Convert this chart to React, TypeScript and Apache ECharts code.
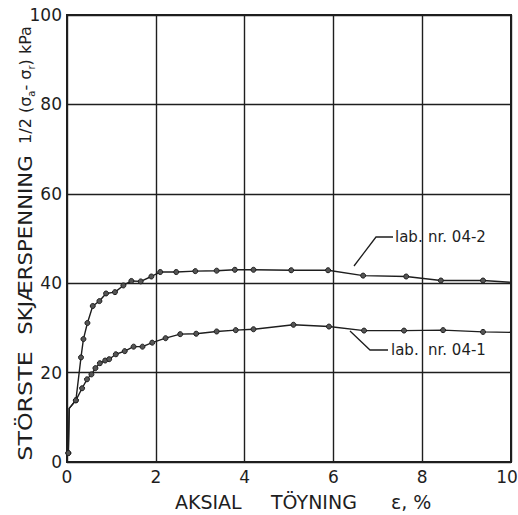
import React, { useEffect, useRef } from "react";
import * as echarts from "echarts";

// Lab. nr. 04-2 (upper curve)
const strain042 = [0.03, 0.05, 0.2, 0.315, 0.37, 0.46, 0.58, 0.73, 0.88, 1.08, 1.27, 1.45, 1.66, 1.9, 2.1, 2.46, 2.89, 3.37, 3.78, 4.2, 5.05, 5.88, 6.67, 7.64, 8.42, 9.37, 10.0];
const stress042 = [2, 12, 13.8, 23.4, 27.5, 31.1, 34.9, 36, 37.7, 38, 39.5, 40.5, 40.4, 41.5, 42.5, 42.5, 42.7, 42.8, 43, 43, 42.9, 42.9, 41.7, 41.5, 40.6, 40.6, 40.2];
const marked042 = [1, 0, 1, 1, 1, 1, 1, 1, 1, 1, 1, 1, 1, 1, 1, 1, 1, 1, 1, 1, 1, 1, 1, 1, 1, 1, 0];

// Lab. nr. 04-1 (lower curve)
const strain041 = [0.03, 0.05, 0.2, 0.34, 0.45, 0.55, 0.64, 0.74, 0.86, 0.95, 1.1, 1.3, 1.5, 1.7, 1.92, 2.22, 2.55, 2.91, 3.37, 3.8, 4.2, 5.1, 5.9, 6.69, 7.59, 8.47, 9.37, 10.0];
const stress041 = [2, 12, 13.8, 16.5, 18.5, 19.6, 21, 22.1, 22.7, 23, 24.1, 24.8, 25.8, 25.8, 26.7, 27.7, 28.6, 28.7, 29.2, 29.5, 29.7, 30.7, 30.3, 29.4, 29.4, 29.5, 29.1, 29.0];
const marked041 = [1, 0, 1, 1, 1, 1, 1, 1, 1, 1, 1, 1, 1, 1, 1, 1, 1, 1, 1, 1, 1, 1, 1, 1, 1, 1, 1, 0];

const xTicks = [0, 2, 4, 6, 8, 10];
const yTicks = [0, 20, 40, 60, 80, 100];

const label042 = ["lab.", "nr. 04-2"];
const label041 = ["lab.", "nr. 04-1"];
const xTitle = ["AKSIAL", "TÖYNING", "ε, %"];
const yTitle = ["STÖRSTE", "SKJÆRSPENNING", "{t|1/2 (σ}{s|a}{t|- σ}{s|r}{t|) kPa}"];

const INK = "#1e1e1e";
const FONT = "DejaVu Sans";

function build(xs: number[], ys: number[], marks: number[]) {
  return xs.map((x, i) => ({
    value: [x, ys[i]],
    symbolSize: marks[i] ? 5 : 0,
  }));
}

export default function App() {
  const ref = useRef<HTMLDivElement>(null);
  useEffect(() => {
    if (!ref.current) return;
    const chart = echarts.init(ref.current, undefined, { renderer: "svg" });
    const lineSeries = (name: string, data: any[]) => ({
      name,
      type: "line",
      data,
      symbol: "circle",
      showSymbol: true,
      lineStyle: { color: INK, width: 1.4 },
      itemStyle: { color: "#555", borderColor: INK, borderWidth: 1 },
      z: 5,
    });
    const ytext = (text: string, y: number, sx: number, extra: any = {}) => ({
      type: "text",
      x: 25,
      y,
      rotation: Math.PI / 2,
      scaleX: sx,
      style: {
        text,
        font: `19px '${FONT}'`,
        fill: INK,
        align: "center",
        verticalAlign: "middle",
        ...extra,
      },
    });
    const lastX = xTicks[xTicks.length - 1];
    chart.setOption({
      animation: false,
      backgroundColor: "#ffffff",
      grid: {
        left: 67,
        right: 7,
        top: 15,
        bottom: 53,
        show: true,
        borderColor: INK,
        borderWidth: 2,
        containLabel: false,
        outerBoundsMode: "none",
      },
      xAxis: {
        type: "value",
        min: xTicks[0],
        max: lastX,
        interval: 2,
        axisLine: { show: true, lineStyle: { color: INK, width: 2 } },
        axisTick: { show: false },
        axisLabel: {
          color: INK,
          fontFamily: FONT,
          fontSize: 17,
          margin: 6,
          formatter: (v: number) =>
            xTicks.includes(v) ? (v === lastX ? `{e|${v}}` : String(v)) : "",
          rich: {
            e: { fontSize: 17, fontFamily: FONT, color: INK, padding: [0, 8, 0, 0] },
          },
        },
        splitLine: { show: true, lineStyle: { color: INK, width: 1.4 } },
      },
      yAxis: {
        type: "value",
        min: yTicks[0],
        max: yTicks[yTicks.length - 1],
        interval: 20,
        axisLine: { show: true, lineStyle: { color: INK, width: 2 } },
        axisTick: { show: false },
        axisLabel: {
          color: INK,
          fontFamily: FONT,
          fontSize: 17,
          margin: 5,
          formatter: (v: number) => (yTicks.includes(v) ? String(v) : ""),
        },
        splitLine: { show: true, lineStyle: { color: INK, width: 1.4 } },
      },
      series: [
        lineSeries("lab. nr. 04-2", build(strain042, stress042, marked042)),
        lineSeries("lab. nr. 04-1", build(strain041, stress041, marked041)),
      ],
      graphic: [
        { type: "polyline", shape: { points: [[354, 266], [376, 237], [393, 237]] }, style: { stroke: INK, lineWidth: 1.3, fill: "none" }, z: 10 },
        { type: "text", x: 395, y: 237, style: { text: label042[0], font: `15px '${FONT}'`, fill: INK, verticalAlign: "middle" }, z: 10 },
        { type: "text", x: 428, y: 237, style: { text: label042[1], font: `15px '${FONT}'`, fill: INK, verticalAlign: "middle" }, z: 10 },
        { type: "polyline", shape: { points: [[350, 331], [370, 350], [388, 350]] }, style: { stroke: INK, lineWidth: 1.3, fill: "none" }, z: 10 },
        { type: "text", x: 391, y: 350, style: { text: label041[0], font: `15px '${FONT}'`, fill: INK, verticalAlign: "middle" }, z: 10 },
        { type: "text", x: 428, y: 350, style: { text: label041[1], font: `15px '${FONT}'`, fill: INK, verticalAlign: "middle" }, z: 10 },
        { type: "text", x: 175, y: 502, style: { text: xTitle[0], font: `19px '${FONT}'`, fill: INK, verticalAlign: "middle" } },
        { type: "text", x: 271, y: 502, style: { text: xTitle[1], font: `19px '${FONT}'`, fill: INK, verticalAlign: "middle" } },
        { type: "text", x: 391, y: 502, style: { text: xTitle[2], font: `19px '${FONT}'`, fill: INK, verticalAlign: "middle" } },
        ytext(yTitle[0], 406, 1.25),
        ytext(yTitle[1], 245, 1.12),
        ytext(yTitle[2], 85, 1, {
          rich: {
            t: { fontSize: 16, fontFamily: FONT, fill: INK, lineHeight: 22 },
            s: { fontSize: 10, fontFamily: FONT, fill: INK, lineHeight: 10, verticalAlign: "bottom" },
          },
        }),
      ],
    });
    return () => chart.dispose();
  }, []);
  return <div ref={ref} style={{ width: 518, height: 515, position: "absolute", left: 0, top: 0 }} />;
}
